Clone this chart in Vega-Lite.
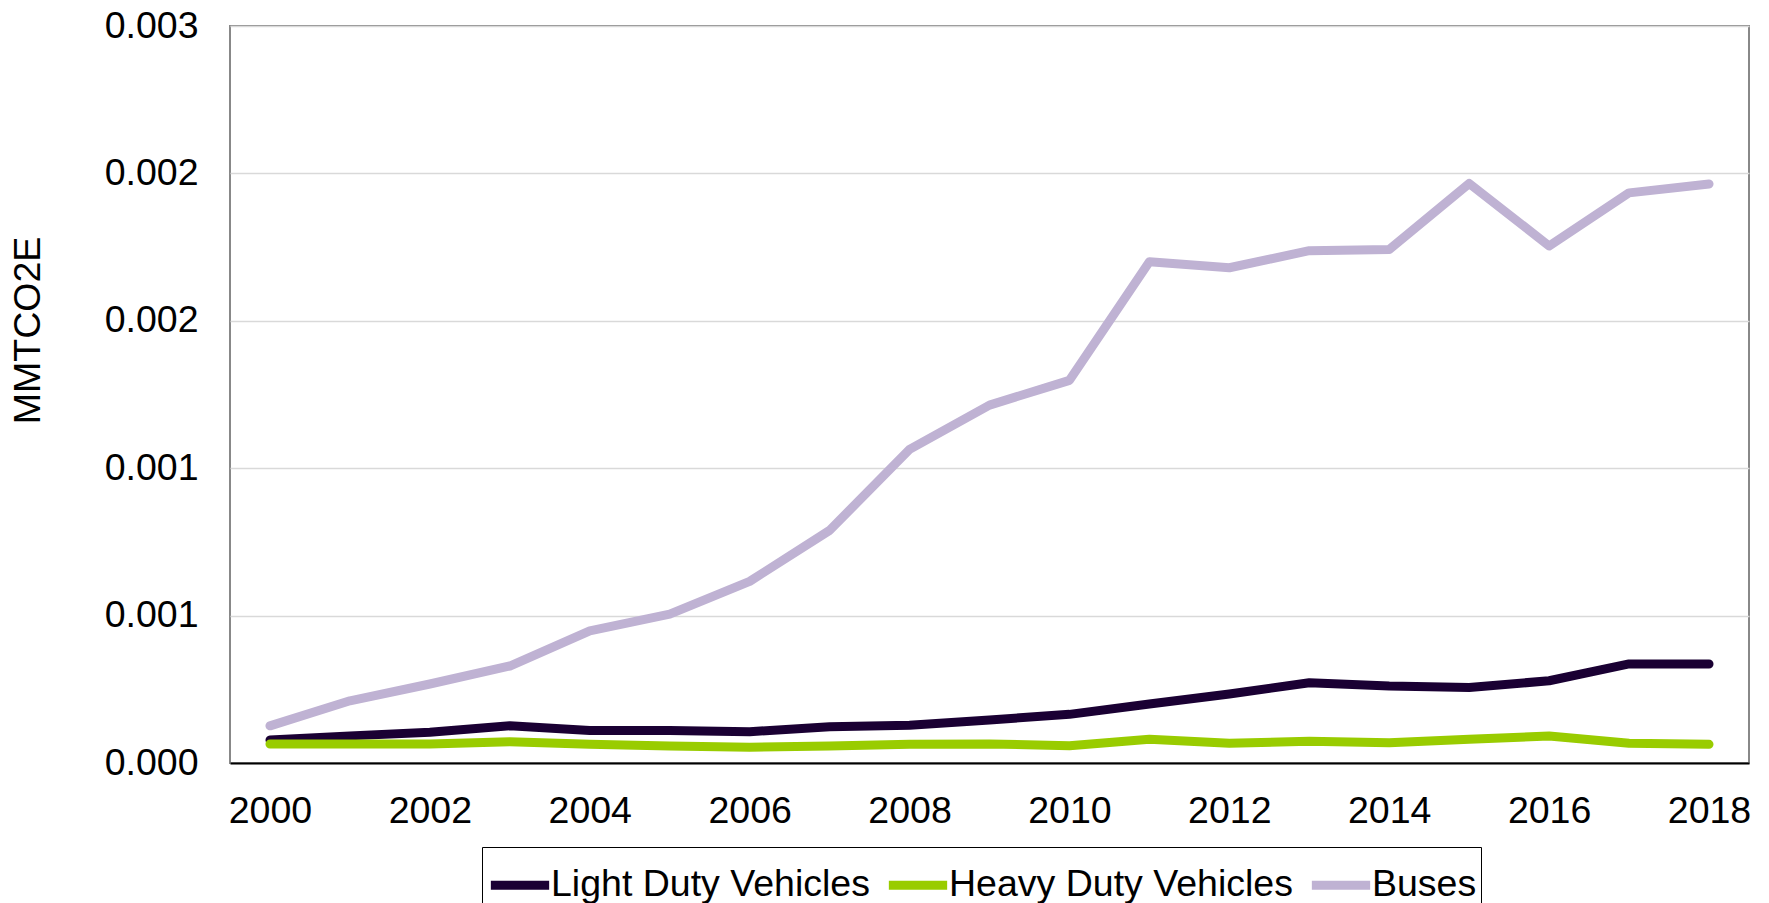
{
  "$schema": "https://vega.github.io/schema/vega-lite/v6.json",
  "width": 1519,
  "height": 737,
  "autosize": {"type": "none"},
  "padding": {"left": 230, "top": 26, "right": 20, "bottom": 140},
  "background": "white",
  "config": {
    "font": "Liberation Sans",
    "view": {"stroke": "#888888", "strokeWidth": 2},
    "axis": {"labelFont": "Liberation Sans", "titleFont": "Liberation Sans", "labelColor": "black", "titleColor": "black"}
  },
  "data": {
    "values": [
      {"year": 2000, "series": "Buses", "value": 0.000126},
      {"year": 2001, "series": "Buses", "value": 0.000211},
      {"year": 2002, "series": "Buses", "value": 0.000268},
      {"year": 2003, "series": "Buses", "value": 0.000329},
      {"year": 2004, "series": "Buses", "value": 0.000448},
      {"year": 2005, "series": "Buses", "value": 0.000505},
      {"year": 2006, "series": "Buses", "value": 0.000616},
      {"year": 2007, "series": "Buses", "value": 0.000789},
      {"year": 2008, "series": "Buses", "value": 0.001064},
      {"year": 2009, "series": "Buses", "value": 0.001214},
      {"year": 2010, "series": "Buses", "value": 0.001298},
      {"year": 2011, "series": "Buses", "value": 0.0017},
      {"year": 2012, "series": "Buses", "value": 0.00168},
      {"year": 2013, "series": "Buses", "value": 0.001738},
      {"year": 2014, "series": "Buses", "value": 0.001742},
      {"year": 2015, "series": "Buses", "value": 0.001966},
      {"year": 2016, "series": "Buses", "value": 0.001754},
      {"year": 2017, "series": "Buses", "value": 0.001934},
      {"year": 2018, "series": "Buses", "value": 0.001964},
      {"year": 2000, "series": "Light Duty Vehicles", "value": 0.000078},
      {"year": 2001, "series": "Light Duty Vehicles", "value": 0.000092},
      {"year": 2002, "series": "Light Duty Vehicles", "value": 0.000104},
      {"year": 2003, "series": "Light Duty Vehicles", "value": 0.000126},
      {"year": 2004, "series": "Light Duty Vehicles", "value": 0.00011},
      {"year": 2005, "series": "Light Duty Vehicles", "value": 0.00011},
      {"year": 2006, "series": "Light Duty Vehicles", "value": 0.000106},
      {"year": 2007, "series": "Light Duty Vehicles", "value": 0.000123},
      {"year": 2008, "series": "Light Duty Vehicles", "value": 0.000128},
      {"year": 2009, "series": "Light Duty Vehicles", "value": 0.000146},
      {"year": 2010, "series": "Light Duty Vehicles", "value": 0.000165},
      {"year": 2011, "series": "Light Duty Vehicles", "value": 0.0002},
      {"year": 2012, "series": "Light Duty Vehicles", "value": 0.000234},
      {"year": 2013, "series": "Light Duty Vehicles", "value": 0.000272},
      {"year": 2014, "series": "Light Duty Vehicles", "value": 0.000261},
      {"year": 2015, "series": "Light Duty Vehicles", "value": 0.000256},
      {"year": 2016, "series": "Light Duty Vehicles", "value": 0.000279},
      {"year": 2017, "series": "Light Duty Vehicles", "value": 0.000336},
      {"year": 2018, "series": "Light Duty Vehicles", "value": 0.000336},
      {"year": 2000, "series": "Heavy Duty Vehicles", "value": 0.0000645},
      {"year": 2001, "series": "Heavy Duty Vehicles", "value": 0.0000645},
      {"year": 2002, "series": "Heavy Duty Vehicles", "value": 0.0000645},
      {"year": 2003, "series": "Heavy Duty Vehicles", "value": 0.0000723},
      {"year": 2004, "series": "Heavy Duty Vehicles", "value": 0.0000634},
      {"year": 2005, "series": "Heavy Duty Vehicles", "value": 0.0000577},
      {"year": 2006, "series": "Heavy Duty Vehicles", "value": 0.0000532},
      {"year": 2007, "series": "Heavy Duty Vehicles", "value": 0.0000577},
      {"year": 2008, "series": "Heavy Duty Vehicles", "value": 0.0000634},
      {"year": 2009, "series": "Heavy Duty Vehicles", "value": 0.0000645},
      {"year": 2010, "series": "Heavy Duty Vehicles", "value": 0.0000588},
      {"year": 2011, "series": "Heavy Duty Vehicles", "value": 0.0000803},
      {"year": 2012, "series": "Heavy Duty Vehicles", "value": 0.0000667},
      {"year": 2013, "series": "Heavy Duty Vehicles", "value": 0.0000735},
      {"year": 2014, "series": "Heavy Duty Vehicles", "value": 0.000069},
      {"year": 2015, "series": "Heavy Duty Vehicles", "value": 0.0000803},
      {"year": 2016, "series": "Heavy Duty Vehicles", "value": 0.0000916},
      {"year": 2017, "series": "Heavy Duty Vehicles", "value": 0.0000667},
      {"year": 2018, "series": "Heavy Duty Vehicles", "value": 0.0000634}
    ]
  },
  "mark": {"type": "line", "strokeWidth": 9, "strokeCap": "round", "strokeJoin": "round"},
  "encoding": {
    "x": {
      "field": "year", "type": "quantitative",
      "scale": {"domain": [1999.5, 2018.5], "nice": false, "zero": false},
      "axis": {
        "title": null, "values": [2000, 2002, 2004, 2006, 2008, 2010, 2012, 2014, 2016, 2018],
        "format": "d", "grid": false, "ticks": false, "labelFontSize": 37.5, "labelPadding": 29,
        "domainColor": "black", "domainWidth": 2
      }
    },
    "y": {
      "field": "value", "type": "quantitative",
      "scale": {"domain": [0, 0.0025], "nice": false},
      "axis": {
        "title": "MMTCO2E", "titleFontSize": 37.5, "titleFontWeight": "normal",
        "titleX": -202, "titleY": 304, "titleAngle": -90, "titleAlign": "center", "titleBaseline": "middle",
        "values": [0, 0.0005, 0.001, 0.0015, 0.002, 0.0025], "format": ".3f",
        "labelFontSize": 37.5, "labelPadding": 32, "ticks": false, "domain": false,
        "gridColor": "#d9d9d9", "gridWidth": 1.5
      }
    },
    "color": {
      "field": "series", "type": "nominal",
      "scale": {"domain": ["Light Duty Vehicles", "Heavy Duty Vehicles", "Buses"], "range": ["#1a0033", "#99cc00", "#bfb2d3"]},
      "legend": {
        "title": null, "orient": "none", "legendX": 252, "legendY": 821, "direction": "horizontal",
        "symbolType": "stroke", "symbolSize": 3400, "symbolStrokeWidth": 9,
        "labelFontSize": 37.5, "labelFont": "Liberation Sans", "labelColor": "black", "labelOffset": -3,
        "columnPadding": 0, "strokeColor": "black", "padding": 4, "labelLimit": 600
      }
    }
  }
}
